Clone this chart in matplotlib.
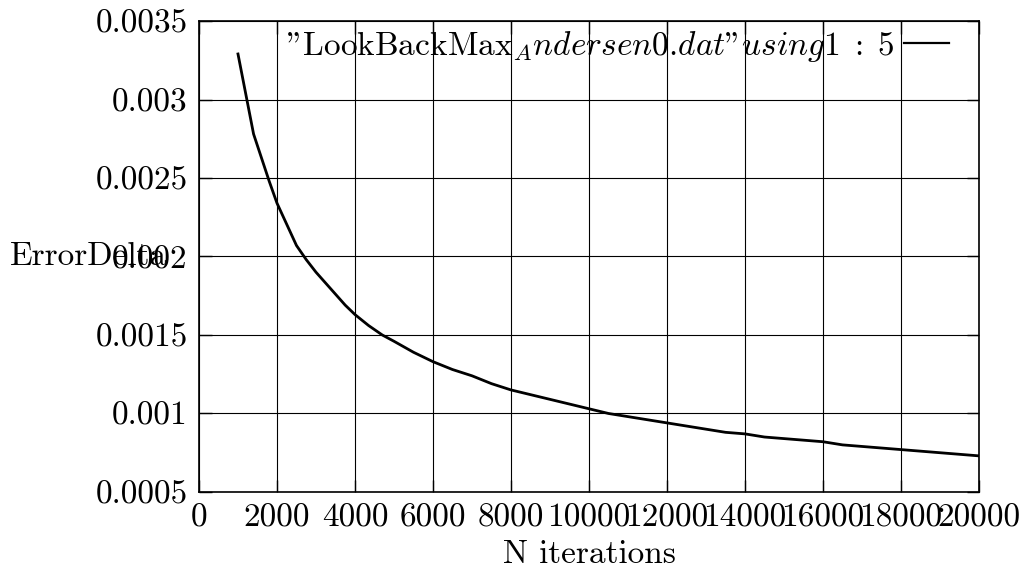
import matplotlib
matplotlib.use('Agg')
import matplotlib.pyplot as plt

# values
iterations = [1000, 1400, 1800, 2000, 2500, 2750, 3000, 3250, 3500, 3750,
              4000, 4350, 4700, 5000, 5500, 6000, 6500, 7000, 7500, 8000,
              8500, 9000, 9500, 10000, 10500, 11000, 11500, 12000, 12500,
              13000, 13500, 14000, 14500, 15000, 15500, 16000, 16500, 17000,
              17500, 18000, 18500, 19000, 19500, 20000]
error_delta = [0.00329, 0.00278, 0.00248, 0.00234, 0.00207, 0.00198, 0.00190,
               0.00183, 0.00176, 0.00169, 0.00163, 0.00156, 0.00150, 0.00146,
               0.00139, 0.00133, 0.00128, 0.00124, 0.00119, 0.00115, 0.00112,
               0.00109, 0.00106, 0.00103, 0.00100, 0.00098, 0.00096, 0.00094,
               0.00092, 0.00090, 0.00088, 0.00087, 0.00085, 0.00084, 0.00083,
               0.00082, 0.00080, 0.00079, 0.00078, 0.00077, 0.00076, 0.00075,
               0.00074, 0.00073]

xticks = [0, 2000, 4000, 6000, 8000, 10000, 12000, 14000, 16000, 18000, 20000]
yticks = [0.0005, 0.001, 0.0015, 0.002, 0.0025, 0.003, 0.0035]
ytick_labels = ['0.0005', '0.001', '0.0015', '0.002', '0.0025', '0.003', '0.0035']

plt.rcParams['font.family'] = 'cmr10'
plt.rcParams['mathtext.fontset'] = 'cm'
plt.rcParams['axes.formatter.use_mathtext'] = True
plt.rcParams['font.size'] = 24

fig = plt.figure(figsize=(10.23, 5.74), dpi=100)
ax = fig.add_axes([0.1945, 0.1429, 0.7625, 0.8205])

ax.plot(iterations, error_delta, color='black', linewidth=2.0,
        label=r'"LookBackMax${}_Andersen0$.$dat$"$using1\;:\;5$')

ax.set_xlim(0, 20000)
ax.set_ylim(0.0005, 0.0035)
ax.set_xticks(xticks)
ax.set_xticklabels([str(t) for t in xticks])
ax.set_yticks(yticks)
ax.set_yticklabels(ytick_labels)

ax.grid(True, color='black', linewidth=0.8)
ax.tick_params(direction='in', length=9, width=1, top=True, right=True, pad=8)
for s in ax.spines.values():
    s.set_linewidth(1.2)

ax.set_xlabel('N iterations', labelpad=6)
ax.set_ylabel('ErrorDelta', rotation=0, ha='left', va='center')
ax.yaxis.set_label_coords(-0.242, 0.5)

leg = ax.legend(loc='upper right', bbox_to_anchor=(0.979, 1.0115),
                frameon=False, markerfirst=False, handlelength=1.36,
                handletextpad=0.3, borderaxespad=0, fontsize=24)
for h in leg.get_lines():
    h.set_linewidth(1.6)

plt.savefig('out.png', dpi=100)
